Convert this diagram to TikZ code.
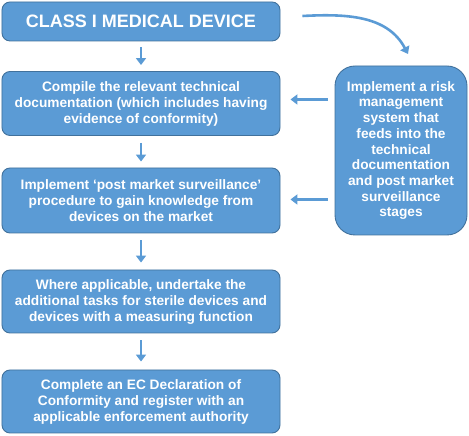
\documentclass[tikz,border=0pt]{standalone}
\usepackage{fontspec}
\setmainfont{Liberation Sans}
\usetikzlibrary{arrows.meta}
\definecolor{boxblue}{HTML}{5B9BD5}
\definecolor{edgeblue}{HTML}{41719C}
\begin{document}
\begin{tikzpicture}[x=1bp,y=1bp,
  box/.style={draw=edgeblue, line width=0.9bp, fill=boxblue, rounded corners=8bp,
    text=white, font=\bfseries\fontsize{13.7bp}{16bp}\selectfont, align=center,
    minimum width=278bp, inner sep=0pt},
  arr/.style={draw=boxblue, line width=2.6bp, -{Triangle[length=7bp,width=10bp]}}]
\useasboundingbox (0,0) rectangle (469,436);
\node[box, minimum height=39bp, font=\bfseries\fontsize{18bp}{20bp}\selectfont] (b1) at (141,414.5) {CLASS I MEDICAL DEVICE};
\node[box, minimum height=64bp] (b2) at (141,332.5) {Compile the relevant technical\\documentation (which includes having\\evidence of conformity)};
\node[box, minimum height=65bp] (b3) at (141,235.5) {Implement ‘post market surveillance’\\procedure to gain knowledge from\\devices on the market};
\node[box, minimum height=63bp] (b4) at (141,134.5) {Where applicable, undertake the\\additional tasks for sterile devices and\\devices with a measuring function};
\node[box, minimum height=63bp] (b5) at (141,34.5) {Complete an EC Declaration of\\Conformity and register with an\\applicable enforcement authority};
\node[box, minimum width=132bp, minimum height=169bp, rounded corners=20bp,
  font=\bfseries\fontsize{13.7bp}{15.7bp}\selectfont] (r) at (401,285.5)
  {Implement a risk\\management\\system that\\feeds into the\\technical\\documentation\\and post market\\surveillance\\stages};
\draw[arr] ([yshift=-6bp]b1.south) -- ([yshift=6bp]b2.north);
\draw[arr] ([yshift=-7bp]b2.south) -- ([yshift=6bp]b3.north);
\draw[arr] ([yshift=-7bp]b3.south) -- ([yshift=7bp]b4.north);
\draw[arr] ([yshift=-7bp]b4.south) -- ([yshift=8bp]b5.north);
\draw[arr] ([xshift=-7bp,yshift=4bp]r.west |- b2.east) -- ([xshift=10bp,yshift=4bp]b2.east);
\draw[arr] ([xshift=-7bp,yshift=1bp]r.west |- b3.east) -- ([xshift=10bp,yshift=1bp]b3.east);
\coordinate (cs) at (303,420);
\coordinate (ce) at (408,382);
\draw[arr] ([xshift=22bp]b1.east |- cs) to[out=3,in=118] (ce);
\end{tikzpicture}
\end{document}
